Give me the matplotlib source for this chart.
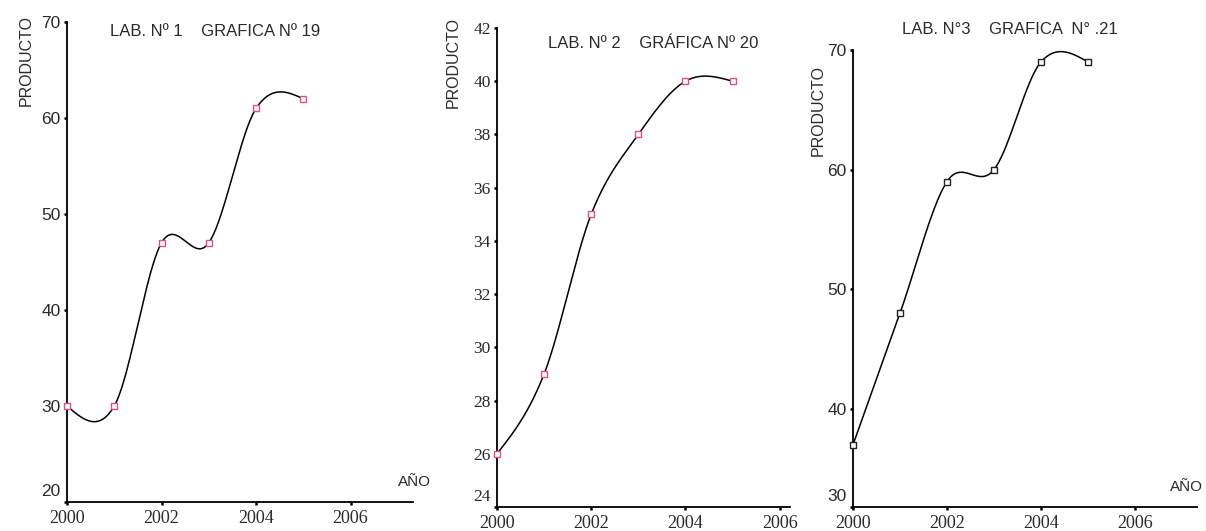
import numpy as np
import matplotlib.pyplot as plt
from matplotlib.transforms import offset_copy

plt.rcParams['font.family'] = ['Liberation Sans', 'DejaVu Sans']

# datos de los tres laboratorios
years = [2000, 2001, 2002, 2003, 2004, 2005]
lab1 = [30, 30, 47, 47, 61, 62]
lab2 = [26, 29, 35, 38, 40, 40]
lab3 = [37, 48, 59, 60, 69, 69]

titles = ["LAB. Nº 1    GRAFICA Nº 19",
          "LAB. Nº 2    GRÁFICA Nº 20",
          "LAB. N°3    GRAFICA  N° .21"]
yticks1 = [20, 30, 40, 50, 60, 70]
yticks2 = [24, 26, 28, 30, 32, 34, 36, 38, 40, 42]
yticks3 = [31.8, 40, 50, 60, 70]
ylabels3 = ["30", "40", "50", "60", "70"]
xticks = [2000, 2002, 2004, 2006]

TXT = '#2a2a2a'
W, H = 1206, 531


def smooth(x, y, n=40):
    # curva suavizada tipo Catmull-Rom (como la linea suavizada de Excel)
    x = np.asarray(x, float)
    y = np.asarray(y, float)
    m = np.zeros_like(y)
    m[1:-1] = (y[2:] - y[:-2]) / (x[2:] - x[:-2])
    m[0] = (3 * (y[1] - y[0]) / (x[1] - x[0]) - m[1]) / 2
    m[-1] = (3 * (y[-1] - y[-2]) / (x[-1] - x[-2]) - m[-2]) / 2
    t = np.linspace(0, 1, n)
    h00 = 2 * t**3 - 3 * t**2 + 1
    h10 = t**3 - 2 * t**2 + t
    h01 = -2 * t**3 + 3 * t**2
    h11 = t**3 - t**2
    xs, ys = [], []
    for i in range(len(x) - 1):
        h = x[i + 1] - x[i]
        xs.append(x[i] + t * h)
        ys.append(h00 * y[i] + h10 * h * m[i] + h01 * y[i + 1] + h11 * h * m[i + 1])
    return np.concatenate(xs), np.concatenate(ys)


def px(l, t, r, b):
    # caja de ejes en pixeles -> fracciones de figura
    return [l / W, 1 - b / H, (r - l) / W, (b - t) / H]


fig = plt.figure(figsize=(W / 100, H / 100), dpi=100)

panels = [
    dict(box=px(67, 22, 413, 502), y=lab1, ylim=(20, 70), yt=yticks1, yl=[str(v) for v in yticks1],
         xlim=(2000, 2007.32), mc='#e0507a', yfont='Liberation Sans'),
    dict(box=px(497, 28, 790, 507), y=lab2, ylim=(24, 42), yt=yticks2, yl=[str(v) for v in yticks2],
         xlim=(2000, 2006.22), mc='#e0507a', yfont='Liberation Serif'),
    dict(box=px(853, 50, 1197, 507), y=lab3, ylim=(31.8, 70), yt=yticks3, yl=ylabels3,
         xlim=(2000, 2007.32), mc='#222222', yfont='Liberation Sans'),
]

for p in panels:
    ax = fig.add_axes(p['box'])
    sx, sy = smooth(years, p['y'])
    ax.plot(sx, sy, color='black', lw=1.1, clip_on=False)
    ax.plot(years, p['y'], ls='none', marker='s', ms=4, mfc='white', mec=p['mc'], mew=1.0,
            clip_on=False, zorder=3)
    ax.set_xlim(*p['xlim'])
    ax.set_ylim(*p['ylim'])
    for s in ['top', 'right']:
        ax.spines[s].set_visible(False)
    for s in ['left', 'bottom']:
        ax.spines[s].set_linewidth(1.3)
    ax.set_xticks(xticks)
    ax.set_xticklabels([str(v) for v in xticks], fontfamily='Liberation Serif', fontsize=13, color=TXT)
    ax.set_yticks(p['yt'])
    ax.set_yticklabels(p['yl'], fontfamily=p['yfont'], fontsize=12.5, color=TXT)
    ax.tick_params(length=2.5, width=1.8, pad=2)
    ax.tick_params(axis='x', pad=3)
    ax.set_yticks([p['ylim'][1]], minor=True)
    ax.tick_params(axis='y', which='minor', length=9, width=1.0, direction='inout')
    # la etiqueta inferior del eje y va algo levantada
    lbl = ax.yaxis.get_major_ticks()[0].label1
    lbl.set_transform(offset_copy(lbl.get_transform(), fig=fig, y=12, units='dots'))

fig.text(110 / W, 1 - 32 / H, titles[0], fontsize=12, color=TXT, va='center')
fig.text(548 / W, 1 - 43 / H, titles[1], fontsize=12, color=TXT, va='center')
fig.text(902 / W, 1 - 30 / H, titles[2], fontsize=12, color=TXT, va='center')

for xp, yp in [(26, 60), (453, 63), (818, 111)]:
    fig.text(xp / W, 1 - yp / H, "PRODUCTO", fontsize=11.5, color=TXT, rotation=90,
             ha='center', va='center')

fig.text(398 / W, 1 - 482 / H, "AÑO", fontsize=11, color=TXT, va='center')
fig.text(1170 / W, 1 - 487 / H, "AÑO", fontsize=11, color=TXT, va='center')

fig.savefig('out.png', dpi=100)
